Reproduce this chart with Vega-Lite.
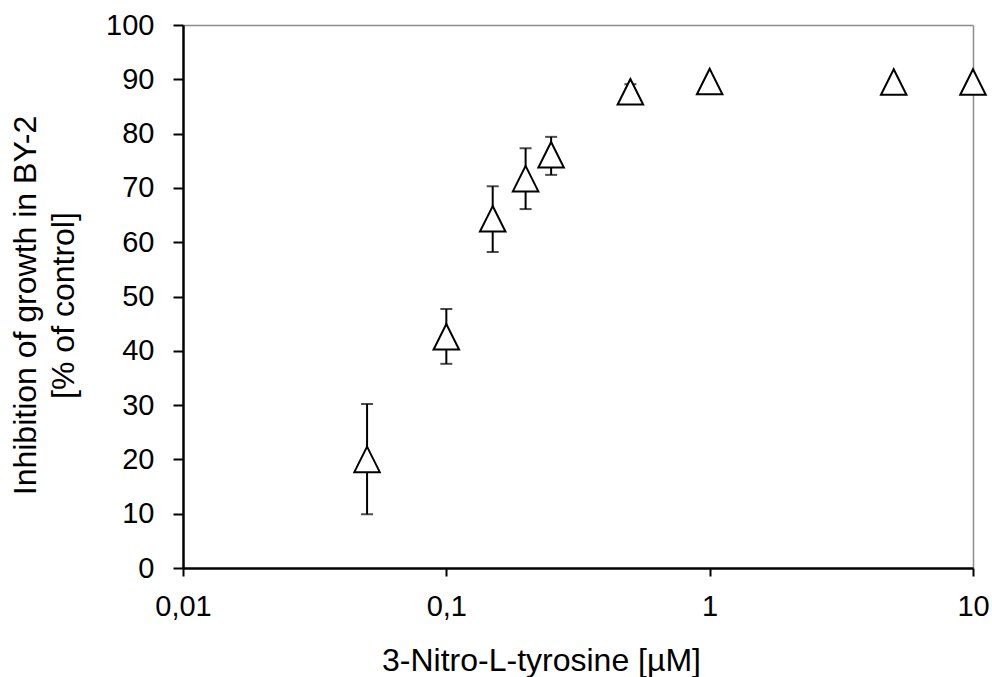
{
  "$schema": "https://vega.github.io/schema/vega-lite/v6.json",
  "autosize": {"type": "none"},
  "padding": {"left": 183, "top": 25, "right": 19, "bottom": 109},
  "width": 790,
  "height": 543,
  "background": "white",
  "config": {
    "view": {"stroke": null},
    "font": "Liberation Sans",
    "axis": {
      "labelFont": "Liberation Sans",
      "titleFont": "Liberation Sans",
      "labelColor": "black",
      "titleColor": "black",
      "titleFontWeight": "normal",
      "grid": false
    }
  },
  "data": {
    "values": [
      {"conc": 0.05, "inhibition": 20.0, "lo": 9.9, "hi": 30.2},
      {"conc": 0.1, "inhibition": 42.6, "lo": 37.6, "hi": 47.7},
      {"conc": 0.15, "inhibition": 64.3, "lo": 58.2, "hi": 70.3},
      {"conc": 0.2, "inhibition": 71.7, "lo": 66.1, "hi": 77.3},
      {"conc": 0.25, "inhibition": 76.1, "lo": 72.4, "hi": 79.4},
      {"conc": 0.5, "inhibition": 87.7, "lo": 86.3, "hi": 89.1},
      {"conc": 1, "inhibition": 89.6, "lo": null, "hi": null},
      {"conc": 5, "inhibition": 89.5, "lo": null, "hi": null},
      {"conc": 10, "inhibition": 89.5, "lo": null, "hi": null}
    ]
  },
  "resolve": {"axis": {"x": "independent", "y": "independent"}},
  "layer": [
    {
      "mark": {
        "type": "point",
        "shape": "M0,-1L-1,1L1,1Z",
        "size": 1,
        "opacity": 0
      },
      "encoding": {
        "x": {
          "field": "conc", "type": "quantitative",
          "scale": {"type": "log", "domain": [0.01, 10]},
          "axis": {"orient": "top", "labels": false, "ticks": false, "title": null, "domainColor": "#8c8c8c", "domainWidth": 1.5}
        },
        "y": {
          "field": "inhibition", "type": "quantitative",
          "scale": {"domain": [0, 100], "nice": false},
          "axis": {"orient": "right", "labels": false, "ticks": false, "title": null, "domainColor": "#8c8c8c", "domainWidth": 1.5}
        }
      }
    },
    {
      "transform": [{"filter": "datum.lo != null"}],
      "mark": {"type": "rule", "color": "black", "strokeWidth": 2},
      "encoding": {
        "x": {
          "field": "conc", "type": "quantitative",
          "scale": {"type": "log", "domain": [0.01, 10]},
          "axis": {
            "orient": "bottom",
            "zindex": 1,
            "values": [0.01, 0.1, 1, 10],
            "labelExpr": "replace(toString(datum.value), '.', ',')",
            "labelFontSize": 29,
            "labelFlush": false,
            "labelOverlap": false,
            "labelPadding": 16,
            "tickSize": 8,
            "tickWidth": 2,
            "tickColor": "black",
            "domainColor": "black",
            "domainWidth": 2.5,
            "title": "3-Nitro-L-tyrosine [µM]",
            "titleFontSize": 32,
            "titleAlign": "center",
            "titleBaseline": "alphabetic",
            "titleX": 358,
            "titleY": 102
          }
        },
        "y": {
          "field": "lo", "type": "quantitative",
          "scale": {"domain": [0, 100], "nice": false},
          "axis": {
            "orient": "left",
            "zindex": 1,
            "values": [0, 10, 20, 30, 40, 50, 60, 70, 80, 90, 100],
            "labelFontSize": 29,
            "labelPadding": 19,
            "labelFlush": false,
            "labelOverlap": false,
            "tickSize": 10,
            "tickWidth": 2,
            "tickColor": "black",
            "domainColor": "black",
            "domainWidth": 2.5,
            "title": ["Inhibition of growth in BY-2", "[% of control]"],
            "titleFontSize": 32,
            "titleLineHeight": 38,
            "titleAngle": -90,
            "titleAlign": "center",
            "titleBaseline": "alphabetic",
            "titleX": -148,
            "titleY": 280
          }
        },
        "y2": {"field": "hi"}
      }
    },
    {
      "transform": [{"filter": "datum.lo != null"}],
      "mark": {"type": "tick", "orient": "horizontal", "color": "black", "size": 12, "thickness": 2},
      "encoding": {
        "x": {"field": "conc", "type": "quantitative", "scale": {"type": "log", "domain": [0.01, 10]}, "axis": null},
        "y": {"field": "lo", "type": "quantitative", "scale": {"domain": [0, 100], "nice": false}, "axis": null}
      }
    },
    {
      "transform": [{"filter": "datum.hi != null"}],
      "mark": {"type": "tick", "orient": "horizontal", "color": "black", "size": 12, "thickness": 2},
      "encoding": {
        "x": {"field": "conc", "type": "quantitative", "scale": {"type": "log", "domain": [0.01, 10]}, "axis": null},
        "y": {"field": "hi", "type": "quantitative", "scale": {"domain": [0, 100], "nice": false}, "axis": null}
      }
    },
    {
      "mark": {
        "type": "point",
        "shape": "M0,-1L-1,1L1,1Z",
        "size": 650,
        "filled": true,
        "fill": "white",
        "stroke": "black",
        "strokeWidth": 2,
        "opacity": 1
      },
      "encoding": {
        "x": {"field": "conc", "type": "quantitative", "scale": {"type": "log", "domain": [0.01, 10]}, "axis": null},
        "y": {"field": "inhibition", "type": "quantitative", "scale": {"domain": [0, 100], "nice": false}, "axis": null}
      }
    }
  ]
}
